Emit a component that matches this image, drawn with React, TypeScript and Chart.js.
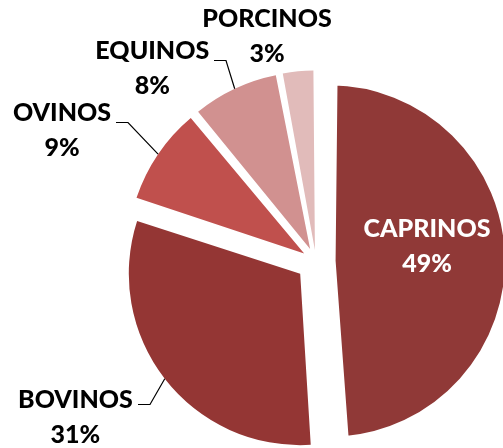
import { useEffect, useRef } from "react";
import { Chart, registerables } from "chart.js";

Chart.register(...registerables);

const categories = ["CAPRINOS", "BOVINOS", "OVINOS", "EQUINOS", "PORCINOS"];
const shares = [49, 31, 9, 8, 3];

const sliceColors = ["#903937", "#943634", "#C0504D", "#D19190", "#E1BBBA"];
const labelColors = ["#FFFFFF", "#000000", "#000000", "#000000", "#000000"];
// explosion of each slice, in px of translation
const explode = [13.1, 20, 14.3, 13.8, 11.6];
// white outline per slice (trims the drawn wedge)
const outline = [13, 0, 0, 0, 0];
// label block centre relative to the slice's rim midpoint
const labelShift = [
  [-84.3, -8.9],
  [-89.3, 38.2],
  [-96.1, -23.9],
  [-82.4, -20.2],
  [-31, -35],
];
const hasLeader = [false, true, true, true, false];
const leaderDy = [0, 4, 9.5, 9, 0];

const FONT = "900 25px Lato";
const LINE_GAP = 35;

const labelPlugin = {
  id: "sliceLabels",
  afterDatasetsDraw(chart: any) {
    const ctx = chart.ctx as CanvasRenderingContext2D;
    const meta = chart.getDatasetMeta(0);
    const total = shares.reduce((a, b) => a + b, 0);
    ctx.save();
    ctx.font = FONT;
    ctx.textAlign = "center";
    ctx.textBaseline = "middle";
    meta.data.forEach((el: any, i: number) => {
      const { x, y, startAngle, endAngle, outerRadius, circumference } = el.getProps(
        ["x", "y", "startAngle", "endAngle", "outerRadius", "circumference"],
        true
      );
      const d = (el.options.offset || 0) / 4;
      const fix = 1 - Math.sin(Math.min(Math.PI, circumference || 0));
      const mid = (startAngle + endAngle) / 2;
      const rim = outerRadius + d * fix;
      const px = x + Math.cos(mid) * (d + rim);
      const py = y + Math.sin(mid) * (d + rim);
      const cx = px + labelShift[i][0];
      const cy = py + labelShift[i][1];
      const name = categories[i];
      const pct = Math.round((shares[i] / total) * 100) + "%";
      ctx.fillStyle = labelColors[i];
      ctx.fillText(name, cx, cy - LINE_GAP / 2);
      ctx.fillText(pct, cx, cy + LINE_GAP / 2);
      if (hasLeader[i]) {
        const w = ctx.measureText(name).width;
        const sx = Math.round(cx + w / 2 + 5);
        const sy = Math.round(cy - LINE_GAP / 2 + leaderDy[i]) + 0.5;
        ctx.beginPath();
        ctx.moveTo(sx, sy);
        ctx.lineTo(sx + 12, sy);
        ctx.lineTo(px, py);
        ctx.strokeStyle = "#000000";
        ctx.lineWidth = 1.2;
        ctx.stroke();
      }
    });
    ctx.restore();
  },
};

export default function App() {
  const canvasRef = useRef<HTMLCanvasElement | null>(null);

  useEffect(() => {
    if (!canvasRef.current) return;
    const chart = new Chart(canvasRef.current, {
      type: "pie",
      data: {
        labels: categories,
        datasets: [
          {
            data: shares,
            backgroundColor: sliceColors,
            borderColor: "#FFFFFF",
            borderWidth: outline,
            borderAlign: "center",
            offset: explode.map((v) => v * 4),
            hoverOffset: 0,
            radius: 170,
            clip: false,
          } as any,
        ],
      },
      options: {
        animation: false,
        responsive: true,
        maintainAspectRatio: false,
        layout: { padding: { left: 129, right: 0, top: 75, bottom: 0 } },
        plugins: {
          legend: { display: false },
          tooltip: { enabled: false },
          title: { display: false },
        },
        events: [],
      },
      plugins: [labelPlugin],
    });
    return () => chart.destroy();
  }, []);

  return (
    <div style={{ position: "fixed", left: 0, top: 0, width: 503, height: 448, background: "#fff" }}>
      <canvas ref={canvasRef} />
    </div>
  );
}
